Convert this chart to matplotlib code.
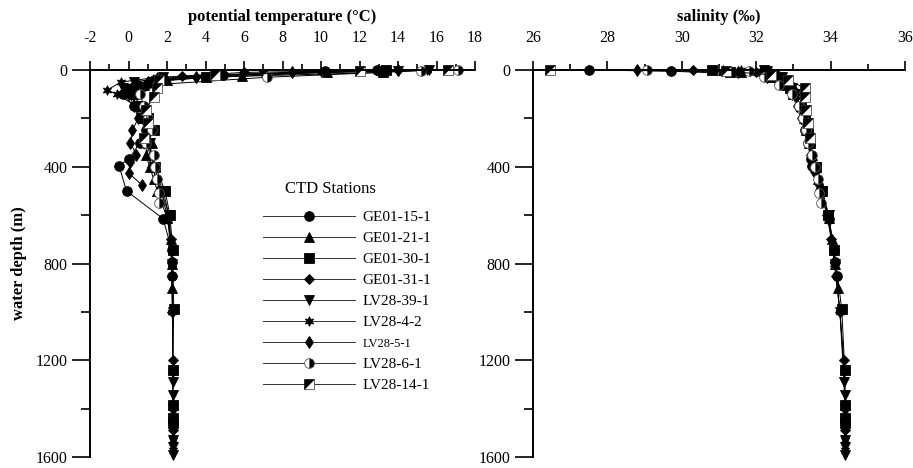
import matplotlib
matplotlib.use('Agg')
import matplotlib.pyplot as plt
from matplotlib.ticker import MultipleLocator
from matplotlib.legend_handler import HandlerTuple

plt.rcParams['font.family'] = ['Liberation Serif', 'DejaVu Serif']
plt.rcParams['axes.unicode_minus'] = False

# stations: depth (m), potential temperature (degC), salinity (permil)
names = ['GE01-15-1', 'GE01-21-1', 'GE01-30-1', 'GE01-31-1', 'LV28-39-1',
         'LV28-4-2', 'LV28-5-1', 'LV28-6-1', 'LV28-14-1']

d_ge15 = [0, 5, 20, 40, 60, 80, 100, 150, 200, 250, 300, 370, 395, 500, 615, 745, 795, 850]
t_ge15 = [12.9, 10.2, 4.9, 1.3, 0.5, 0.0, -0.3, 0.3, 0.6, 0.9, 0.6, 0.0, -0.5, -0.1, 1.8, 2.25, 2.25, 2.25]
s_ge15 = [27.5, 29.7, 32.3, 32.6, 32.8, 32.9, 33.0, 33.15, 33.25, 33.32, 33.4, 33.48, 33.5, 33.72, 33.95, 34.08, 34.12, 34.17]

d_ge21 = [0, 10, 25, 40, 60, 80, 100, 150, 200, 250, 300, 350, 400, 450, 500, 610, 700, 800, 900]
t_ge21 = [13.1, 10.3, 5.9, 2.0, 0.8, 0.4, 0.3, 0.6, 0.8, 1.0, 1.2, 0.9, 1.1, 1.3, 1.5, 2.0, 2.2, 2.25, 2.27]
s_ge21 = [31.1, 31.6, 32.3, 32.6, 32.8, 32.95, 33.05, 33.2, 33.28, 33.35, 33.42, 33.5, 33.58, 33.66, 33.74, 33.95, 34.05, 34.12, 34.2]

d_ge30 = [0, 10, 30, 50, 75, 100, 150, 200, 250, 300, 400, 500, 600, 745, 990, 1240, 1385, 1440, 1460]
t_ge30 = [13.4, 13.2, 4.0, 1.2, 0.5, 0.3, 0.6, 1.0, 1.3, 1.0, 1.4, 1.9, 2.15, 2.3, 2.35, 2.3, 2.3, 2.3, 2.3]
s_ge30 = [30.8, 31.3, 32.4, 32.7, 32.9, 33.0, 33.2, 33.3, 33.4, 33.45, 33.6, 33.78, 33.92, 34.1, 34.3, 34.38, 34.4, 34.4, 34.4]

d_ge31 = [0, 10, 25, 50, 75, 100, 150, 200, 250, 300, 400, 500, 600, 700, 850, 1000, 1200, 1400, 1490]
t_ge31 = [14.0, 6.0, 2.8, 1.0, 0.4, 0.0, 0.5, 0.9, 1.1, 0.8, 1.2, 1.7, 2.1, 2.2, 2.25, 2.28, 2.3, 2.3, 2.3]
s_ge31 = [30.3, 32.0, 32.5, 32.8, 32.95, 33.05, 33.18, 33.28, 33.36, 33.42, 33.58, 33.75, 33.9, 34.02, 34.15, 34.25, 34.35, 34.38, 34.39]

d_lv39 = [0, 5, 15, 30, 50, 75, 100, 150, 200, 300, 400, 500, 600, 800, 1000, 1290, 1345, 1400, 1530, 1560, 1590]
t_lv39 = [15.6, 14.0, 7.0, 1.8, 0.3, -0.3, 0.1, 0.5, 0.9, 1.1, 1.3, 1.8, 2.1, 2.25, 2.3, 2.3, 2.3, 2.3, 2.3, 2.3, 2.3]
s_lv39 = [32.2, 32.3, 32.5, 32.7, 32.85, 32.95, 33.05, 33.2, 33.3, 33.45, 33.6, 33.78, 33.95, 34.12, 34.25, 34.36, 34.38, 34.39, 34.4, 34.4, 34.4]

d_lv4 = [0, 10, 30, 50, 83, 100, 150, 200, 300, 400, 500, 620, 800, 1000, 1250, 1450, 1530, 1570]
t_lv4 = [15.5, 10.0, 1.5, -0.4, -1.1, -0.6, 0.4, 0.8, 1.0, 1.2, 1.7, 2.05, 2.25, 2.28, 2.3, 2.3, 2.3, 2.3]
s_lv4 = [31.6, 32.1, 32.6, 32.75, 32.9, 33.0, 33.15, 33.25, 33.4, 33.55, 33.72, 33.95, 34.1, 34.25, 34.37, 34.39, 34.4, 34.4]

d_lv5 = [0, 10, 30, 50, 75, 100, 150, 200, 250, 300, 350, 380, 426, 475]
t_lv5 = [14.0, 8.5, 3.5, 1.0, 0.2, 0.0, 0.3, 0.5, 0.2, 0.1, 0.4, 0.1, 0.0, 0.7]
s_lv5 = [28.8, 31.5, 32.3, 32.65, 32.85, 32.95, 33.1, 33.2, 33.3, 33.38, 33.45, 33.5, 33.58, 33.68]

d_lv6 = [0, 3, 30, 60, 100, 150, 200, 250, 300, 350, 400, 450, 510, 550]
t_lv6 = [17.1, 15.2, 7.2, 1.5, 0.6, 0.8, 1.0, 1.2, 0.9, 1.3, 1.4, 1.5, 1.6, 1.6]
s_lv6 = [29.06, 31.8, 32.2, 32.6, 32.95, 33.15, 33.25, 33.33, 33.4, 33.5, 33.58, 33.65, 33.7, 33.75]

d_lv14 = [0, 5, 20, 40, 75, 110, 165, 220, 280]
t_lv14 = [16.6, 12.0, 4.5, 1.6, 1.5, 1.3, 0.9, 1.0, 0.8]
s_lv14 = [26.45, 31.2, 32.4, 32.85, 33.3, 33.3, 33.35, 33.4, 33.45]

depths = [d_ge15, d_ge21, d_ge30, d_ge31, d_lv39, d_lv4, d_lv5, d_lv6, d_lv14]
temps = [t_ge15, t_ge21, t_ge30, t_ge31, t_lv39, t_lv4, t_lv5, t_lv6, t_lv14]
sals = [s_ge15, s_ge21, s_ge30, s_ge31, s_lv39, s_lv4, s_lv5, s_lv6, s_lv14]

# marker styles for each station
tri_ul = [(-1, -1), (-1, 1), (1, 1), (-1, -1)]
styles = [
    dict(marker='o', ms=7, mfc='k'),
    dict(marker='^', ms=6.5, mfc='k'),
    dict(marker='s', ms=7, mfc='k'),
    dict(marker='D', ms=5.5, mfc='k'),
    dict(marker='v', ms=7, mfc='k'),
    dict(marker=(6, 1, 0), ms=7, mfc='k'),
    dict(marker='d', ms=6, mfc='k'),
    dict(marker='o', ms=7, mfc='k', fillstyle='right', markerfacecoloralt='white', mec='#555555'),
    dict(marker='s', ms=7, mfc='white', mec='#555555'),
]

fig = plt.figure(figsize=(9.13, 4.68), dpi=100)
ax1 = fig.add_axes([90 / 913, 1 - 457 / 468, 385 / 913, 387 / 468])
ax2 = fig.add_axes([533 / 913, 1 - 457 / 468, 372 / 913, 387 / 468])


def draw(ax, xs_list):
    handles = []
    for i, (d, xs) in enumerate(zip(depths, xs_list)):
        st = dict(styles[i])
        h, = ax.plot(xs, d, color='k', lw=0.7, mec=st.pop('mec', 'k'), mew=0.6,
                     clip_on=False, **st)
        if i == 8:
            h2, = ax.plot(xs, d, ls='none', marker=tri_ul, ms=7, mfc='k', mec='k',
                          mew=0.3, clip_on=False)
            h = (h, h2)
        handles.append(h)
    return handles


handles = draw(ax1, temps)
draw(ax2, sals)

for ax in (ax1, ax2):
    ax.set_ylim(1600, 0)
    ax.xaxis.tick_top()
    ax.xaxis.set_label_position('top')
    ax.spines['right'].set_visible(False)
    ax.spines['bottom'].set_visible(False)
    ax.spines['top'].set_linewidth(1.4)
    ax.spines['left'].set_linewidth(1.4)
    ax.yaxis.set_major_locator(MultipleLocator(400))
    ax.yaxis.set_minor_locator(MultipleLocator(200))
    ax.tick_params(axis='x', which='major', direction='out', length=6.5, width=1.2,
                   labelsize=11.5, pad=11)
    ax.tick_params(axis='x', which='minor', direction='out', length=4.5, width=1.2)
    ax.tick_params(axis='y', which='major', direction='out', length=13, width=1.2,
                   labelsize=11.5, pad=3)
    ax.tick_params(axis='y', which='minor', direction='out', length=6.5, width=1.2)

ax1.set_xlim(-2, 18)
ax1.xaxis.set_major_locator(MultipleLocator(2))
ax1.xaxis.set_minor_locator(MultipleLocator(1))
ax1.set_xlabel('potential temperature (°C)', fontweight='bold', fontsize=12, labelpad=6)
ax1.set_ylabel('water depth (m)', fontweight='bold', fontsize=12, labelpad=6)

ax2.set_xlim(26, 36)
ax2.xaxis.set_major_locator(MultipleLocator(2))
ax2.xaxis.set_minor_locator(MultipleLocator(1))
ax2.set_xlabel('salinity (‰)', fontweight='bold', fontsize=12, labelpad=6)

fig.text(330 / 913, 1 - 189 / 468, 'CTD Stations', ha='center', va='center', fontsize=12)
leg = fig.legend(handles, names, loc='upper left', bbox_to_anchor=(263 / 913, 1 - 210.5 / 468),
                 frameon=False, borderpad=0, borderaxespad=0, handlelength=6.0,
                 handletextpad=0.5, labelspacing=0.48, fontsize=11,
                 handler_map={tuple: HandlerTuple(ndivide=1, pad=0)})
for line in leg.get_lines():
    line.set_linewidth(0.7)
    line.set_color('#333333')
leg.get_texts()[6].set_fontsize(9)

fig.savefig('out.png', dpi=100)
